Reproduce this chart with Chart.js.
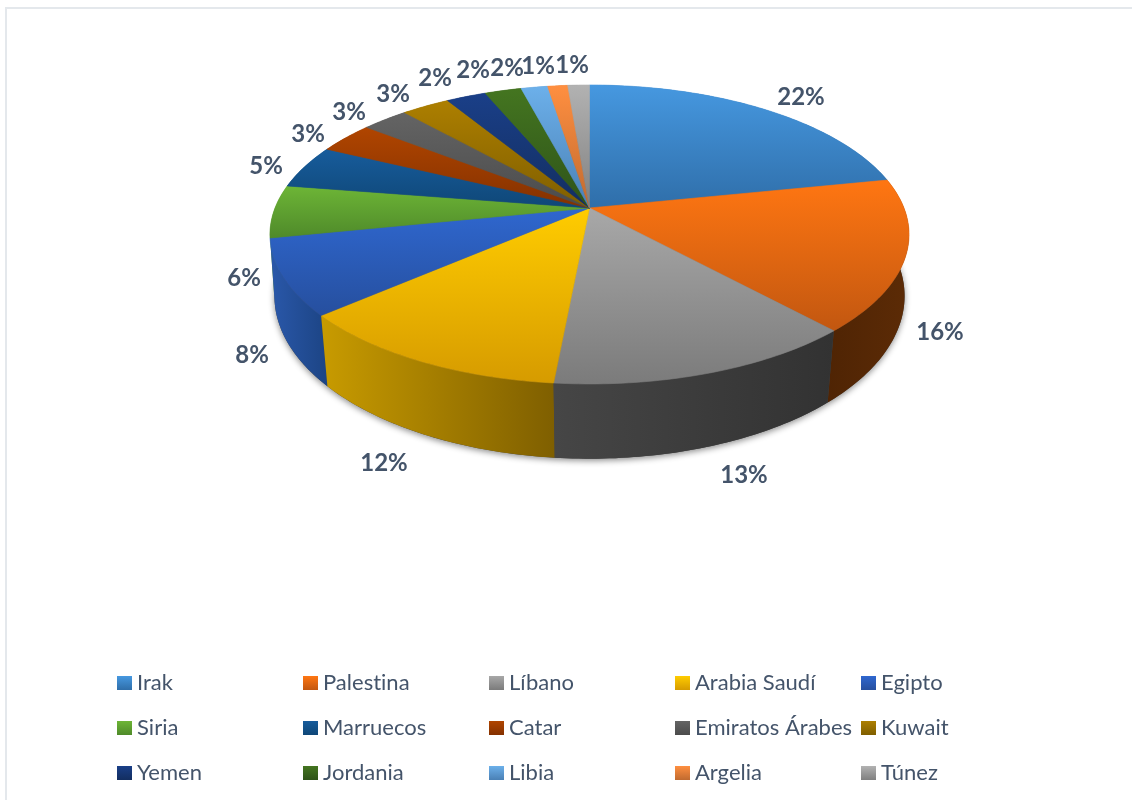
<!DOCTYPE html>
<html>
<head>
<meta charset="utf-8">
<title>Pie</title>
<script src="https://cdn.jsdelivr.net/npm/chart.js@4"></script>
<style>
    html, body { margin: 0; padding: 0; background: #fff; overflow: hidden; }
    #frame { position: absolute; left: 5px; top: 7px; width: 1127px; height: 793px; border-left: 2px solid #e4e8ec; border-top: 2px solid #e4e8ec; box-sizing: border-box; }
    canvas { position: absolute; left: 0; top: 0; }
</style>
</head>
<body>
<div id="frame"></div>
<canvas id="pie3d" width="1132" height="800"></canvas>
<script>
// data
var countries = ['Irak', 'Palestina', 'Líbano', 'Arabia Saudí', 'Egipto', 'Siria', 'Marruecos', 'Catar', 'Emiratos Árabes', 'Kuwait', 'Yemen', 'Jordania', 'Libia', 'Argelia', 'Túnez'];
var shares = [21.8, 16.4, 13.3, 12.1, 8.2, 5.7, 4.7, 3.4, 2.8, 2.9, 2.4, 2.2, 1.6, 1.2, 1.3];

// colours of the top face (light to dark) and of the side wall (left to right)
var topLight = ['#4698e0', '#ff7612', '#a8a8a8', '#ffcc00', '#2f67cf', '#6db536', '#175c9c', '#b04500', '#646464', '#ad7f00', '#1a3f88', '#447520', '#6cb0ea', '#ff8f40', '#b2b2b2'];
var topDark = ['#2f6ea9', '#c25710', '#7b7b7b', '#d69b00', '#264f9e', '#4f8a2a', '#0f4777', '#843100', '#4b4b4b', '#7f5e00', '#132e60', '#2e5319', '#4a80b5', '#c06a30', '#808080'];
var wallLeft = ['#2f6ea9', '#4f2404', '#464646', '#c89b00', '#2a58aa', '#4f8a2a', '#0f4777', '#843100', '#4b4b4b', '#7f5e00', '#132e60', '#2e5319', '#4a80b5', '#c06a30', '#808080'];
var wallRight = ['#2f6ea9', '#5c2b06', '#323232', '#7f5f00', '#1c4484', '#4f8a2a', '#0f4777', '#843100', '#4b4b4b', '#7f5e00', '#132e60', '#2e5319', '#4a80b5', '#c06a30', '#808080'];

// perspective of the disc, top face and bottom face
var centerX = 589.5;
var topFace = { k: 0.177, cy: 208, rx: 314.5, ry: 144.8 };
var bottomFace = { k: 0.16, cy: 270, rx: 311, ry: 158.5 };

// centres of the percent labels, same order as countries
var labelX = [801, 940, 744, 384, 252, 244, 266, 308, 349, 393, 435, 473, 507, 538, 572];
var labelY = [97, 332, 475, 463, 355, 278, 166, 134, 112, 94, 78, 70, 68, 66, 65];

// legend grid
var legendCols = [117, 303, 489, 675, 861];
var legendRows = [676, 721, 766];

var textColor = '#44546a';

function project(angle, face) {
    var d = 1 - face.k * Math.sin(angle);
    return { x: centerX + face.rx * Math.cos(angle) / d, y: face.cy + face.ry * Math.sin(angle) / d };
}

function arcPoints(start, end, face) {
    var steps = Math.max(6, Math.ceil((end - start) * 60));
    var pts = [];
    for (var s = 0; s <= steps; s++) {
        pts.push(project(start + (end - start) * s / steps, face));
    }
    return pts;
}

function tracePath(ctx, pts) {
    ctx.beginPath();
    pts.forEach(function (p, i) {
        if (i === 0) ctx.moveTo(p.x, p.y); else ctx.lineTo(p.x, p.y);
    });
    ctx.closePath();
}

// draws the slices of the pie in perspective, from the angles chart.js worked out
var pie3d = {
    id: 'pie3d',
    beforeDatasetsDraw: function (chart) {
        var ctx = chart.ctx;
        var arcs = chart.getDatasetMeta(0).data;

        // soft shadow under the wall
        ctx.save();
        ctx.shadowColor = 'rgba(0,0,0,0.45)';
        ctx.shadowBlur = 6;
        ctx.shadowOffsetY = 2;
        ctx.fillStyle = '#444';
        tracePath(ctx, arcPoints(0, Math.PI * 2, bottomFace));
        ctx.fill();
        ctx.restore();

        // walls, back ones first
        var order = arcs.map(function (a, i) { return i; });
        order.sort(function (a, b) {
            return Math.sin((arcs[a].startAngle + arcs[a].endAngle) / 2) - Math.sin((arcs[b].startAngle + arcs[b].endAngle) / 2);
        });
        order.forEach(function (i) {
            var top = arcPoints(arcs[i].startAngle, arcs[i].endAngle, topFace);
            var bottom = arcPoints(arcs[i].startAngle, arcs[i].endAngle, bottomFace);
            var xs = top.concat(bottom).map(function (p) { return p.x; });
            var g = ctx.createLinearGradient(Math.min.apply(null, xs), 0, Math.max.apply(null, xs), 0);
            g.addColorStop(0, wallLeft[i]);
            g.addColorStop(1, wallRight[i]);
            ctx.fillStyle = g;
            tracePath(ctx, top.concat(bottom.reverse()));
            ctx.fill();
        });

        // top face
        arcs.forEach(function (arc, i) {
            var pts = arcPoints(arc.startAngle, arc.endAngle, topFace);
            pts.push({ x: centerX, y: topFace.cy });
            var ys = pts.map(function (p) { return p.y; });
            var g = ctx.createLinearGradient(0, Math.min.apply(null, ys), 0, Math.max.apply(null, ys));
            g.addColorStop(0, topLight[i]);
            g.addColorStop(1, topDark[i]);
            ctx.fillStyle = g;
            ctx.strokeStyle = g;
            ctx.lineWidth = 0.6;
            tracePath(ctx, pts);
            ctx.fill();
            ctx.stroke();
        });
        return false;
    },
    afterDraw: function (chart) {
        var ctx = chart.ctx;
        var values = chart.data.datasets[0].data;
        var total = values.reduce(function (a, b) { return a + b; }, 0);
        ctx.save();
        ctx.fillStyle = textColor;
        ctx.letterSpacing = '0.01px'; // keeps Lato from joining "ti" into a ligature

        // percent labels
        ctx.font = 'bold 24px Lato';
        ctx.textAlign = 'center';
        ctx.textBaseline = 'middle';
        values.forEach(function (v, i) {
            ctx.fillText(Math.round(v / total * 100) + '%', labelX[i], labelY[i]);
        });

        // legend
        ctx.font = '22px Lato';
        ctx.textAlign = 'left';
        chart.data.labels.forEach(function (name, i) {
            var x = legendCols[i % 5];
            var y = legendRows[Math.floor(i / 5)];
            var g = ctx.createLinearGradient(0, y, 0, y + 14);
            g.addColorStop(0, topLight[i]);
            g.addColorStop(1, topDark[i]);
            ctx.fillStyle = g;
            ctx.fillRect(x, y, 15, 14);
            ctx.fillStyle = textColor;
            ctx.fillText(name, x + 20, y + 7);
        });
        ctx.restore();
    }
};

var ctx = document.getElementById('pie3d').getContext('2d');
var chart = new Chart(ctx, {
    type: 'pie',
    data: {
        labels: countries,
        datasets: [{
            data: shares,
            backgroundColor: topLight,
            borderWidth: 0
        }]
    },
    options: {
        responsive: false,
        animation: false,
        plugins: {
            legend: { display: false },
            tooltip: { enabled: false }
        }
    },
    plugins: [pie3d]
});
</script>
</body>
</html>
